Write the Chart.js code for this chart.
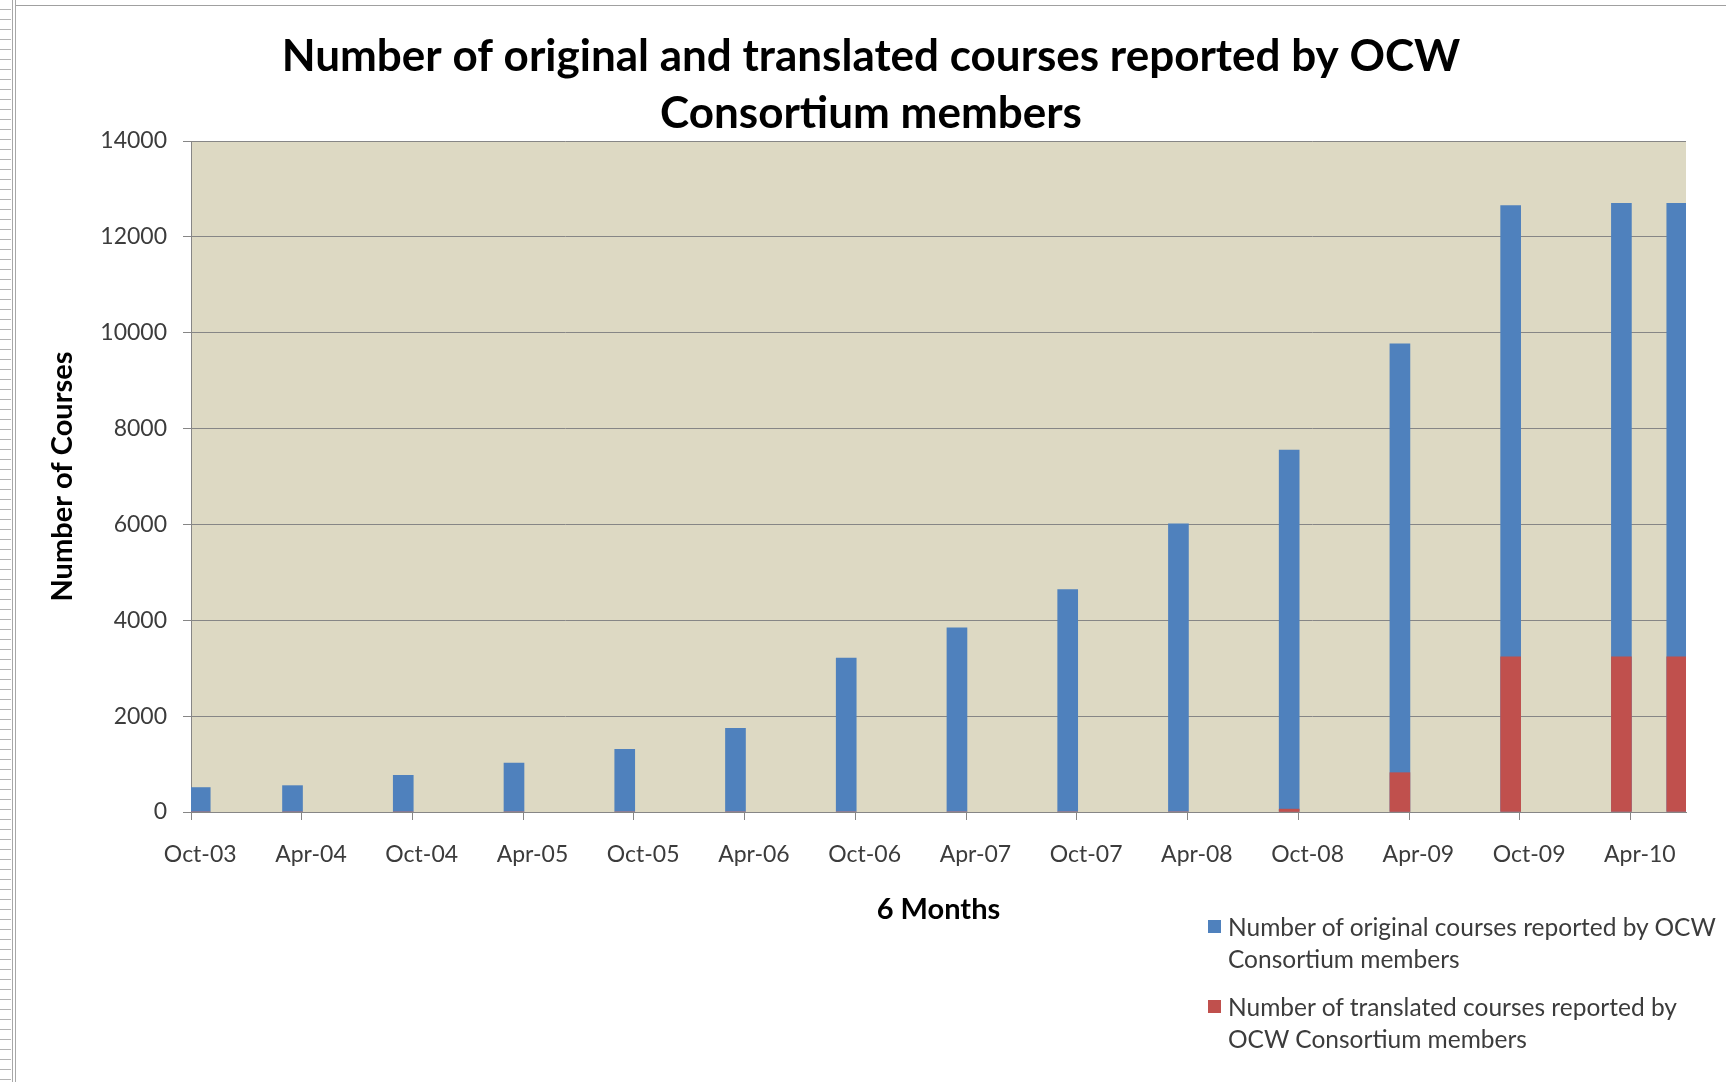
<!DOCTYPE html>
<html>
<head>
<meta charset="utf-8">
<title>OCW Consortium courses</title>
<script src="https://cdn.jsdelivr.net/npm/chart.js@4.4.1/dist/chart.umd.min.js"></script>
<style>
    html, body { margin: 0; padding: 0; background: #fff; }
    body { width: 1726px; height: 1082px; position: relative; overflow: hidden; font-family: Lato, sans-serif; }
    #ruler { position: absolute; left: 0; top: 0; width: 11px; height: 100%;
        background: repeating-linear-gradient(to bottom, #fff 0, #fff 9px, #b4b4b4 9px, #b4b4b4 10px); }
    #edge { position: absolute; left: 12px; top: 0; width: 2px; height: 100%;
        border-left: 1px solid #a8a8a8; border-right: 1px solid #a8a8a8; }
    #topline { position: absolute; left: 16px; right: 0; top: 5px; border-top: 1px solid #a0a0a0; }
    #chartBox { position: absolute; left: 0; top: 0; width: 1726px; height: 1082px; }
    #legend { position: absolute; left: 1208px; top: 911px; color: #3c3c3c; font-size: 24.5px; line-height: 32px; }
    .item { position: relative; padding-left: 20px; margin-bottom: 16px; }
    .item span.box { position: absolute; left: 0; top: 9px; width: 13px; height: 13px; }
</style>
</head>
<body>
<div id="ruler"></div>
<div id="edge"></div>
<div id="topline"></div>
<div id="chartBox"><canvas id="coursesChart"></canvas></div>
<div id="legend"></div>

<script>
const tickLabels = ['Oct-03', 'Apr-04', 'Oct-04', 'Apr-05', 'Oct-05', 'Apr-06', 'Oct-06',
    'Apr-07', 'Oct-07', 'Apr-08', 'Oct-08', 'Apr-09', 'Oct-09', 'Apr-10'];
const barMonths = ['Oct-03', 'Mar-04', 'Sep-04', 'Mar-05', 'Sep-05', 'Mar-06', 'Sep-06', 'Mar-07',
    'Sep-07', 'Mar-08', 'Sep-08', 'Mar-09', 'Sep-09', 'Mar-10', 'Jun-10'];
const originalCourses = [510, 550, 765, 1020, 1310, 1745, 3210, 3840, 4640, 6010, 7550, 9770, 12650, 12700, 12700];
const translatedCourses = [0, 0, 0, 0, 0, 0, 0, 0, 0, 0, 60, 820, 3240, 3240, 3240];
const yTicks = [0, 2000, 4000, 6000, 8000, 10000, 12000, 14000];

const seriesNames = [
    ['Number of original courses reported by OCW', 'Consortium members'],
    ['Number of translated  courses reported by', 'OCW Consortium members']
];
const seriesColors = ['#4F81BD', '#C0504D'];

// the date axis has one slot per month, Oct-03 .. Jun-10
const monthNames = ['Jan', 'Feb', 'Mar', 'Apr', 'May', 'Jun', 'Jul', 'Aug', 'Sep', 'Oct', 'Nov', 'Dec'];
const months = [];
for (let n = 2003 * 12 + 9; n <= 2010 * 12 + 5; n++) {
    months.push(monthNames[n % 12] + '-' + String(Math.floor(n / 12) % 100).padStart(2, '0'));
}

const gridColor = '#868686';
const textColor = '#3c3c3c';

const plotBackground = {
    id: 'plotBackground',
    beforeDraw(chart) {
        const { ctx, chartArea: a } = chart;
        ctx.save();
        ctx.fillStyle = '#DDD9C3';
        ctx.fillRect(a.left, a.top, a.right - a.left, a.bottom - a.top);
        ctx.restore();
    }
};

Chart.defaults.font.family = 'Lato, sans-serif';
Chart.defaults.color = textColor;

new Chart(document.getElementById('coursesChart'), {
    type: 'bar',
    data: {
        labels: months,
        datasets: [{
            label: seriesNames[0].join(' '),
            data: barMonths.map((m, i) => ({ x: m, y: originalCourses[i] })),
            backgroundColor: seriesColors[0],
            order: 2
        }, {
            label: seriesNames[1].join(' '),
            data: barMonths.map((m, i) => ({ x: m, y: translatedCourses[i] })),
            backgroundColor: seriesColors[1],
            order: 1
        }]
    },
    options: {
        responsive: true,
        maintainAspectRatio: false,
        animation: false,
        datasets: { bar: { grouped: false, barThickness: 20, borderWidth: 0 } },
        layout: { padding: { left: 56, right: 40, top: 0, bottom: 150 } },
        plugins: {
            legend: { display: false },
            tooltip: { enabled: false },
            title: {
                display: true,
                text: ['Number of original and translated courses reported by OCW', 'Consortium members'],
                color: '#000',
                font: { size: 44, weight: 'bold', lineHeight: '57px' },
                padding: { top: 28.5, bottom: -1.5 }
            }
        },
        scales: {
            x: {
                type: 'category',
                offset: true,
                afterFit: (scale) => { scale.height = 120; },
                grid: {
                    offset: true,
                    drawOnChartArea: false,
                    tickLength: 8,
                    tickColor: (ctx) => tickLabels.includes(months[ctx.index]) ? gridColor : 'rgba(0,0,0,0)'
                },
                border: { color: gridColor, width: 1 },
                ticks: {
                    autoSkip: false,
                    maxRotation: 0,
                    minRotation: 0,
                    padding: 21,
                    font: { size: 23 },
                    callback: (value, index) => tickLabels.includes(months[index]) ? months[index] : ''
                },
                title: {
                    display: true,
                    text: '6 Months',
                    color: '#000',
                    font: { size: 29, weight: 'bold' },
                    padding: { top: 0, bottom: 5 }
                }
            },
            y: {
                min: yTicks[0],
                max: yTicks[yTicks.length - 1],
                afterFit: (scale) => { scale.width = 135; },
                afterBuildTicks: (scale) => { scale.ticks = yTicks.map(v => ({ value: v })); },
                grid: { color: gridColor, tickLength: 8 },
                border: { color: gridColor, width: 1 },
                ticks: { padding: 16, font: { size: 23 }, callback: (value) => String(value) },
                title: {
                    display: true,
                    text: 'Number of Courses',
                    color: '#000',
                    font: { size: 29, weight: 'bold' },
                    padding: { top: -11, bottom: 0 }
                }
            }
        }
    },
    plugins: [plotBackground]
});

const legend = document.getElementById('legend');
seriesNames.forEach((lines, i) => {
    const item = document.createElement('div');
    item.className = 'item';
    item.innerHTML = `<span class="box" style="background:${seriesColors[i]}"></span>${lines.join('<br>')}`;
    legend.appendChild(item);
});
</script>
</body>
</html>
